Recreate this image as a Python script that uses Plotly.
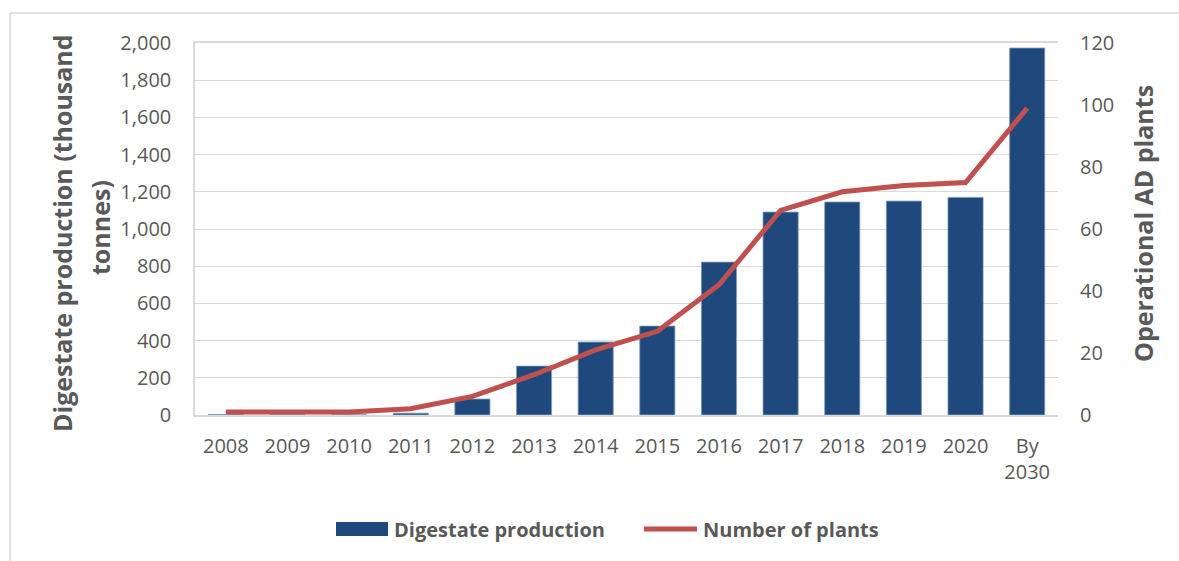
import plotly.graph_objects as go

# Annual figures
years = ["2008", "2009", "2010", "2011", "2012", "2013", "2014", "2015",
         "2016", "2017", "2018", "2019", "2020", "By<br>2030"]
digestate_kt = [3, 1, 1, 10, 86, 263, 392, 478, 822, 1091, 1145, 1150, 1170, 1973]
plants = [1, 1, 1, 2, 6, 13, 21, 27, 42, 66, 72, 74, 75, 99]

y_ticks = list(range(0, 2001, 200))
y2_ticks = list(range(0, 121, 20))

BLUE = "#1f497d"
RED = "#c0504d"
TXT = "#595959"
GRID = "#d9d9d9"
FONT = "Open Sans"

W, H = 1179, 561
L, R, T, B = 195, 121, 43, 146
PW, PH = W - L - R, H - T - B

def px(x):
    return (x - L) / PW

def py(y):
    return (H - B - y) / PH

fig = go.Figure()
fig.add_trace(go.Bar(
    x=years, y=digestate_kt, name="Digestate production",
    marker=dict(color=BLUE, line=dict(color="#7f9cc2", width=0.8)),
    showlegend=False,
))
fig.add_trace(go.Scatter(
    x=years, y=plants, name="Number of plants", yaxis="y2", mode="lines",
    line=dict(color=RED, width=5), showlegend=False,
))

shapes = [
    # outer chart frame
    dict(type="line", xref="paper", yref="paper", x0=px(10), x1=px(W + 5),
         y0=py(13), y1=py(13), line=dict(color=GRID, width=1.5)),
    dict(type="line", xref="paper", yref="paper", x0=px(10), x1=px(10),
         y0=py(13), y1=py(H + 5), line=dict(color=GRID, width=1.5)),
    # legend swatches
    dict(type="rect", xref="paper", yref="paper", x0=px(336), x1=px(388),
         y0=py(536), y1=py(522), fillcolor=BLUE, line=dict(width=0)),
    dict(type="line", xref="paper", yref="paper", x0=px(644), x1=px(697),
         y0=py(529), y1=py(529), line=dict(color=RED, width=5)),
]

title_font = dict(family=FONT, size=25, color=TXT)
annotations = [
    # legend labels
    dict(xref="paper", yref="paper", x=px(392), y=py(529), xanchor="left",
         yanchor="middle", text="<b>Digestate production</b>", showarrow=False,
         font=dict(family=FONT, size=20, color=TXT)),
    dict(xref="paper", yref="paper", x=px(701), y=py(529), xanchor="left",
         yanchor="middle", text="<b>Number of plants</b>", showarrow=False,
         font=dict(family=FONT, size=20, color=TXT)),
    # axis titles
    dict(xref="paper", yref="paper", x=px(62), y=py(233), xanchor="center",
         yanchor="middle", textangle=-90, showarrow=False,
         text="<b>Digestate production (thousand</b>", font=title_font),
    dict(xref="paper", yref="paper", x=px(100), y=py(228), xanchor="center",
         yanchor="middle", textangle=-90, showarrow=False,
         text="<b>tonnes)</b>", font=title_font),
    dict(xref="paper", yref="paper", x=px(1143), y=py(224), xanchor="center",
         yanchor="middle", textangle=-90, showarrow=False,
         text="<b>Operational AD plants</b>", font=title_font),
]

fig.update_layout(
    width=W, height=H,
    margin=dict(l=L, r=R, t=T, b=B),
    paper_bgcolor="white", plot_bgcolor="white",
    font=dict(family=FONT, color=TXT, size=20),
    bargap=0.43,
    xaxis=dict(
        type="category", showline=True, linecolor=GRID, linewidth=1.5,
        mirror=True, ticks="", tickfont=dict(size=20, color=TXT),
        ticklabelstandoff=12, showgrid=False,
    ),
    yaxis=dict(
        range=[0, 2000], tickvals=y_ticks, tickformat=",d",
        showgrid=True, gridcolor=GRID, gridwidth=1.2,
        showline=True, linecolor=GRID, linewidth=1.5, zeroline=False,
        ticks="", ticklabelstandoff=18, tickfont=dict(size=20, color=TXT),
    ),
    yaxis2=dict(
        range=[0, 120], tickvals=y2_ticks, overlaying="y", side="right",
        showgrid=False, zeroline=False, showline=False, ticks="",
        ticklabelstandoff=21, tickfont=dict(size=20, color=TXT),
    ),
    shapes=shapes,
    annotations=annotations,
)

fig.write_html("out.html")
